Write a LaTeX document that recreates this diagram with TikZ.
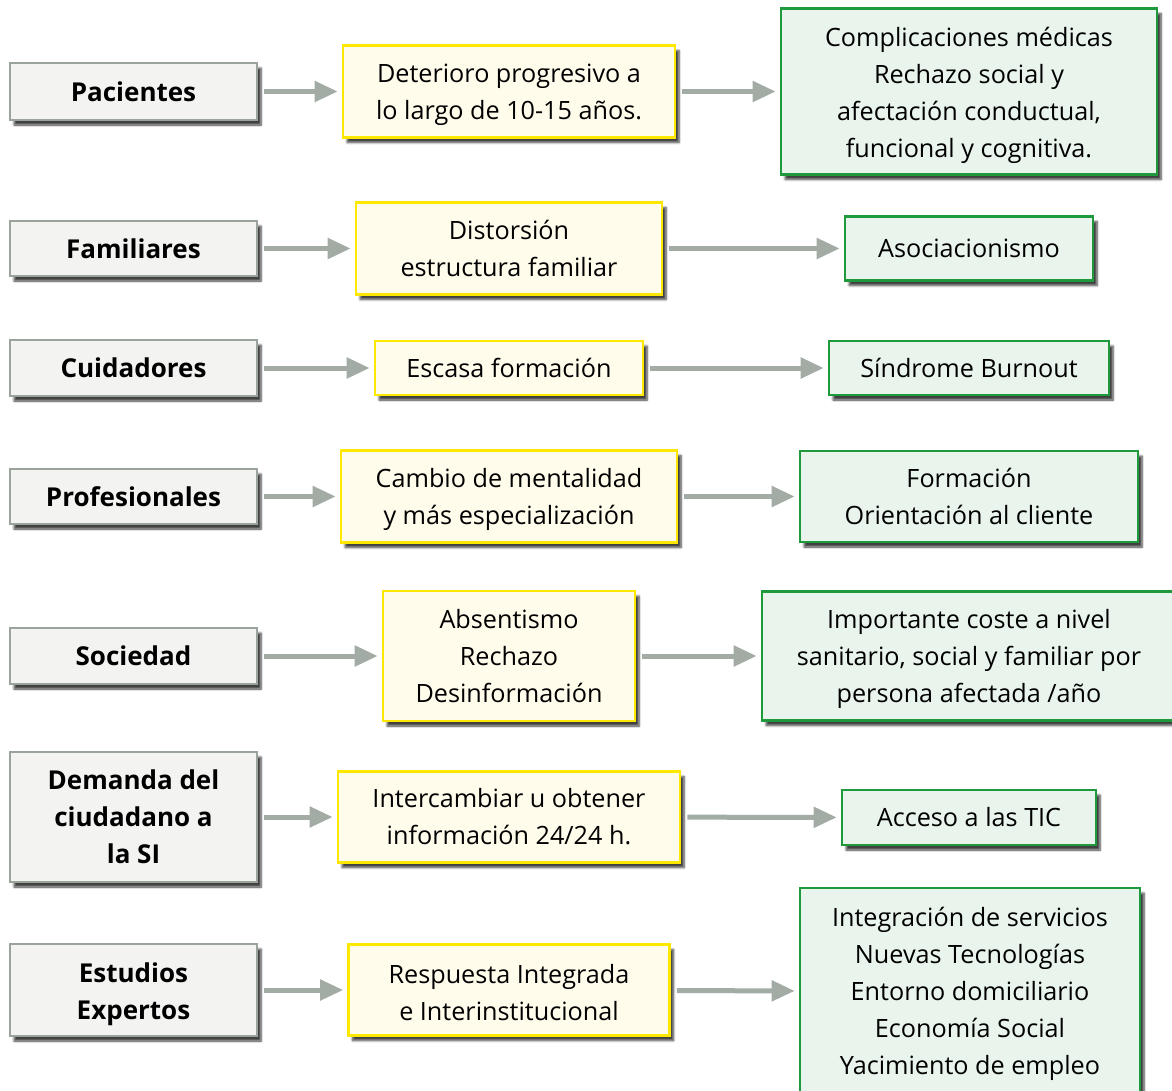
\documentclass[tikz,border=0pt]{standalone}
\usepackage{fontspec}
\setmainfont{Open Sans}
\usetikzlibrary{arrows.meta,shadows.blur}
\definecolor{grisborde}{HTML}{9AA49C}
\definecolor{grisfondo}{HTML}{F3F3F1}
\definecolor{amarborde}{HTML}{FFE800}
\definecolor{amarfondo}{HTML}{FFFCEC}
\definecolor{verdeborde}{HTML}{1E9A3C}
\definecolor{verdefondo}{HTML}{E9F4EC}
\definecolor{flechagris}{HTML}{A2ACA4}
\newcommand{\alto}{\rule{0pt}{25pt}}
\tikzset{
  caja/.style={draw, line width=2.6pt, inner sep=0pt, align=center,
    font=\fontsize{25.2}{37}\selectfont,
    blur shadow={shadow xshift=4pt, shadow yshift=-5pt, shadow opacity=75, shadow blur steps=6}},
  actor/.style={caja, draw=grisborde, fill=grisfondo, font=\fontsize{26}{37}\selectfont\bfseries},
  causa/.style={caja, draw=amarborde, fill=amarfondo},
  efecto/.style={caja, draw=verdeborde, fill=verdefondo},
  flecha/.style={draw=flechagris, line width=5pt,
    -{Triangle[length=23pt,width=20pt]}, shorten <=6pt, shorten >=4pt}
}
\begin{document}
\begin{tikzpicture}[x=1pt,y=-1pt]
  \useasboundingbox (0,0) rectangle (1172,1090);
  \clip (0,0) rectangle (1172,1090);
  % columna izquierda
  \node[actor, minimum width=247pt, minimum height=57pt] (pac) at (133.5,91.5) {Pacientes};
  \node[actor, minimum width=247pt, minimum height=55pt] (fam) at (133.5,248.5) {Familiares};
  \node[actor, minimum width=247pt, minimum height=56pt] (cui) at (133.5,368) {Cuidadores};
  \node[actor, minimum width=247pt, minimum height=55pt] (pro) at (133.5,496.5) {Profesionales};
  \node[actor, minimum width=247pt, minimum height=56pt] (soc) at (133.5,656) {Sociedad};
  \node[actor, minimum width=247pt, minimum height=130pt] (dem) at (133.5,817) {Demanda del\\ciudadano a\\la SI};
  \node[actor, minimum width=247pt, minimum height=92pt] (est) at (133.5,990) {\rule{0pt}{28pt}Estudios\\Expertos};
  % columna central
  \node[causa, minimum width=332pt, minimum height=92pt] (det) at (509,91.5) {\alto Deterioro progresivo a\\lo largo de 10-15 años.};
  \node[causa, minimum width=306pt, minimum height=92pt] (dis) at (509,248.5) {Distorsión\\estructura familiar};
  \node[causa, minimum width=268pt, minimum height=54pt] (esc) at (509,368) {Escasa formación};
  \node[causa, minimum width=336pt, minimum height=92pt] (cam) at (509,496.5) {\alto Cambio de mentalidad\\y más especialización};
  \node[causa, minimum width=252pt, minimum height=130pt] (abs) at (509,656) {Absentismo\\Rechazo\\Desinformación};
  \node[causa, minimum width=342pt, minimum height=91pt] (int) at (509,817) {Intercambiar u obtener\\información 24/24 h.};
  \node[causa, minimum width=321pt, minimum height=91pt] (res) at (509,990) {\alto Respuesta Integrada\\e Interinstitucional};
  % columna derecha
  \node[efecto, minimum width=376pt, minimum height=166pt] (com) at (969,91.5) {\rule{0pt}{28pt}Complicaciones médicas\\Rechazo social y\\afectación conductual,\\funcional y cognitiva.};
  \node[efecto, minimum width=248pt, minimum height=64pt] (aso) at (969,248.5) {Asociacionismo};
  \node[efecto, minimum width=280pt, minimum height=54pt] (sin) at (969,368) {Síndrome Burnout};
  \node[efecto, minimum width=338pt, minimum height=91pt] (for) at (969,496.5) {Formación\\Orientación al cliente};
  \node[efecto, minimum width=414pt, minimum height=129pt] (imp) at (969,656) {\alto Importante coste a nivel\\sanitario, social y familiar por\\persona afectada /año};
  \node[efecto, minimum width=254pt, minimum height=55pt] (acc) at (969,817.5) {Acceso a las TIC};
  \node[efecto, minimum width=340pt, minimum height=207pt] (ser) at (970,991.5) {\alto Integración de servicios\\Nuevas Tecnologías\\Entorno domiciliario\\Economía Social\\Yacimiento de empleo};
  % flechas
  \draw[flecha] (pac) -- (det);
  \draw[flecha] (fam) -- (dis);
  \draw[flecha] (cui) -- (esc);
  \draw[flecha] (pro) -- (cam);
  \draw[flecha] (soc) -- (abs);
  \draw[flecha] (dem) -- (int);
  \draw[flecha] (est) -- (res);
  \draw[flecha] (det) -- (com);
  \draw[flecha] (dis) -- (aso);
  \draw[flecha] (esc) -- (sin);
  \draw[flecha] (cam) -- (for);
  \draw[flecha] (abs) -- (imp);
  \draw[flecha] (int) -- (acc);
  \draw[flecha] (res) -- (ser);
\end{tikzpicture}
\end{document}
